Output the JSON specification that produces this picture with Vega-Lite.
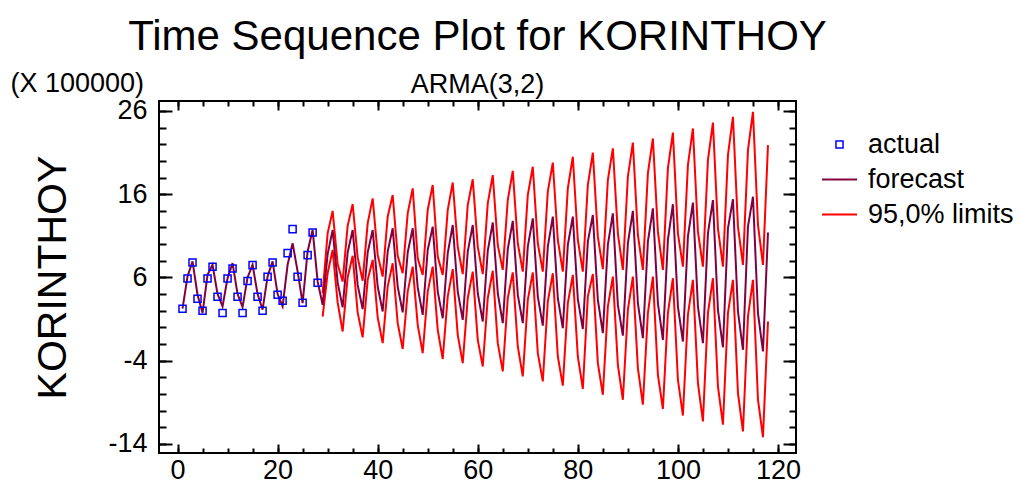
{
  "$schema": "https://vega.github.io/schema/vega-lite/v6.json",
  "width": 637,
  "height": 352,
  "autosize": {"type": "none"},
  "padding": {"left": 159, "top": 101, "right": 224, "bottom": 40},
  "background": "white",
  "config": {
    "view": {"stroke": "black", "strokeWidth": 2},
    "font": "Liberation Sans",
    "axis": {"domain": false, "grid": false, "tickColor": "black", "tickWidth": 2, "labelColor": "black", "labelFont": "Liberation Sans", "labelFontSize": 27, "titleFont": "Liberation Sans", "titleFontWeight": "normal", "titleColor": "black"},
    "legend": {"labelFont": "Liberation Sans", "labelFontSize": 27, "labelColor": "black", "labelLimit": 400}
  },
  "title": {
    "text": "Time Sequence Plot for KORINTHOY",
    "subtitle": "ARMA(3,2)",
    "font": "Liberation Sans",
    "subtitleFont": "Liberation Sans",
    "fontSize": 42,
    "subtitleFontSize": 27,
    "fontWeight": "normal",
    "color": "black",
    "subtitleColor": "black",
    "anchor": "middle",
    "offset": -30,
    "subtitlePadding": 13
  },
  "datasets": {
    "actual": [
      {"t":1,"v":2.24,"s":"actual"},{"t":2,"v":5.88,"s":"actual"},{"t":3,"v":7.8,"s":"actual"},{"t":4,"v":3.44,"s":"actual"},
      {"t":5,"v":2.0,"s":"actual"},{"t":6,"v":5.88,"s":"actual"},{"t":7,"v":7.28,"s":"actual"},{"t":8,"v":3.68,"s":"actual"},
      {"t":9,"v":1.72,"s":"actual"},{"t":10,"v":5.88,"s":"actual"},{"t":11,"v":7.08,"s":"actual"},{"t":12,"v":3.68,"s":"actual"},
      {"t":13,"v":1.72,"s":"actual"},{"t":14,"v":5.56,"s":"actual"},{"t":15,"v":7.48,"s":"actual"},{"t":16,"v":3.68,"s":"actual"},
      {"t":17,"v":2.0,"s":"actual"},{"t":18,"v":6.08,"s":"actual"},{"t":19,"v":7.8,"s":"actual"},{"t":20,"v":3.92,"s":"actual"},
      {"t":21,"v":3.2,"s":"actual"},{"t":22,"v":8.92,"s":"actual"},{"t":23,"v":11.8,"s":"actual"},{"t":24,"v":6.08,"s":"actual"},
      {"t":25,"v":2.96,"s":"actual"},{"t":26,"v":8.68,"s":"actual"},{"t":27,"v":11.4,"s":"actual"},{"t":28,"v":5.36,"s":"actual"}
    ],
    "forecast": [
      {"t":1,"v":2.24,"s":"forecast"},{"t":2,"v":6.12,"s":"forecast"},{"t":3,"v":7.92,"s":"forecast"},{"t":4,"v":3.92,"s":"forecast"},
      {"t":5,"v":1.72,"s":"forecast"},{"t":6,"v":6.32,"s":"forecast"},{"t":7,"v":7.52,"s":"forecast"},{"t":8,"v":4.0,"s":"forecast"},
      {"t":9,"v":2.52,"s":"forecast"},{"t":10,"v":5.92,"s":"forecast"},{"t":11,"v":7.72,"s":"forecast"},{"t":12,"v":4.0,"s":"forecast"},
      {"t":13,"v":2.44,"s":"forecast"},{"t":14,"v":6.0,"s":"forecast"},{"t":15,"v":7.52,"s":"forecast"},{"t":16,"v":4.0,"s":"forecast"},
      {"t":17,"v":2.12,"s":"forecast"},{"t":18,"v":6.12,"s":"forecast"},{"t":19,"v":7.92,"s":"forecast"},{"t":20,"v":4.0,"s":"forecast"},
      {"t":21,"v":2.52,"s":"forecast"},{"t":22,"v":7.52,"s":"forecast"},{"t":23,"v":10.12,"s":"forecast"},{"t":24,"v":6.72,"s":"forecast"},
      {"t":25,"v":2.92,"s":"forecast"},{"t":26,"v":9.12,"s":"forecast"},{"t":27,"v":11.72,"s":"forecast"},{"t":28,"v":5.52,"s":"forecast"},
      {"t":29,"v":2.7,"s":"forecast"},{"t":30,"v":8.8,"s":"forecast"},{"t":31,"v":11.7,"s":"forecast"},{"t":32,"v":5.4,"s":"forecast"},
      {"t":33,"v":2.4,"s":"forecast"},{"t":34,"v":9.0,"s":"forecast"},{"t":35,"v":11.7,"s":"forecast"},{"t":36,"v":5.1,"s":"forecast"},
      {"t":37,"v":2.2,"s":"forecast"},{"t":38,"v":9.0,"s":"forecast"},{"t":39,"v":11.7,"s":"forecast"},{"t":40,"v":4.9,"s":"forecast"},
      {"t":41,"v":1.9,"s":"forecast"},{"t":42,"v":9.1,"s":"forecast"},{"t":43,"v":11.9,"s":"forecast"},{"t":44,"v":4.9,"s":"forecast"},
      {"t":45,"v":1.8,"s":"forecast"},{"t":46,"v":9.0,"s":"forecast"},{"t":47,"v":11.9,"s":"forecast"},{"t":48,"v":4.8,"s":"forecast"},
      {"t":49,"v":1.5,"s":"forecast"},{"t":50,"v":9.3,"s":"forecast"},{"t":51,"v":12.1,"s":"forecast"},{"t":52,"v":4.3,"s":"forecast"},
      {"t":53,"v":1.1,"s":"forecast"},{"t":54,"v":8.9,"s":"forecast"},{"t":55,"v":12.3,"s":"forecast"},{"t":56,"v":4.3,"s":"forecast"},
      {"t":57,"v":0.9,"s":"forecast"},{"t":58,"v":9.1,"s":"forecast"},{"t":59,"v":12.3,"s":"forecast"},{"t":60,"v":4.1,"s":"forecast"},
      {"t":61,"v":0.7,"s":"forecast"},{"t":62,"v":9.2,"s":"forecast"},{"t":63,"v":12.6,"s":"forecast"},{"t":64,"v":4.1,"s":"forecast"},
      {"t":65,"v":0.5,"s":"forecast"},{"t":66,"v":9.4,"s":"forecast"},{"t":67,"v":12.8,"s":"forecast"},{"t":68,"v":3.9,"s":"forecast"},
      {"t":69,"v":0.5,"s":"forecast"},{"t":70,"v":9.7,"s":"forecast"},{"t":71,"v":13.1,"s":"forecast"},{"t":72,"v":3.7,"s":"forecast"},
      {"t":73,"v":0.2,"s":"forecast"},{"t":74,"v":9.7,"s":"forecast"},{"t":75,"v":13.3,"s":"forecast"},{"t":76,"v":3.5,"s":"forecast"},
      {"t":77,"v":-0.1,"s":"forecast"},{"t":78,"v":9.9,"s":"forecast"},{"t":79,"v":13.3,"s":"forecast"},{"t":80,"v":3.4,"s":"forecast"},
      {"t":81,"v":-0.2,"s":"forecast"},{"t":82,"v":10.3,"s":"forecast"},{"t":83,"v":13.5,"s":"forecast"},{"t":84,"v":3.3,"s":"forecast"},
      {"t":85,"v":-0.7,"s":"forecast"},{"t":86,"v":9.9,"s":"forecast"},{"t":87,"v":13.7,"s":"forecast"},{"t":88,"v":2.7,"s":"forecast"},
      {"t":89,"v":-1.0,"s":"forecast"},{"t":90,"v":10.1,"s":"forecast"},{"t":91,"v":14.0,"s":"forecast"},{"t":92,"v":2.9,"s":"forecast"},
      {"t":93,"v":-1.3,"s":"forecast"},{"t":94,"v":10.3,"s":"forecast"},{"t":95,"v":14.3,"s":"forecast"},{"t":96,"v":2.9,"s":"forecast"},
      {"t":97,"v":-1.5,"s":"forecast"},{"t":98,"v":10.5,"s":"forecast"},{"t":99,"v":14.8,"s":"forecast"},{"t":100,"v":2.5,"s":"forecast"},
      {"t":101,"v":-1.7,"s":"forecast"},{"t":102,"v":10.9,"s":"forecast"},{"t":103,"v":15.0,"s":"forecast"},{"t":104,"v":2.5,"s":"forecast"},
      {"t":105,"v":-1.9,"s":"forecast"},{"t":106,"v":11.3,"s":"forecast"},{"t":107,"v":15.3,"s":"forecast"},{"t":108,"v":2.1,"s":"forecast"},
      {"t":109,"v":-2.4,"s":"forecast"},{"t":110,"v":11.9,"s":"forecast"},{"t":111,"v":15.4,"s":"forecast"},{"t":112,"v":1.9,"s":"forecast"},
      {"t":113,"v":-2.7,"s":"forecast"},{"t":114,"v":12.1,"s":"forecast"},{"t":115,"v":15.7,"s":"forecast"},{"t":116,"v":1.7,"s":"forecast"},
      {"t":117,"v":-2.9,"s":"forecast"},{"t":118,"v":11.4,"s":"forecast"}
    ],
    "limits": [
      {"t":29,"u":4.1,"l":1.3,"s":"95,0% limits"},{"t":30,"u":11.3,"l":6.5,"s":"95,0% limits"},{"t":31,"u":14.0,"l":9.3,"s":"95,0% limits"},{"t":32,"u":7.6,"l":3.0,"s":"95,0% limits"},
      {"t":33,"u":5.5,"l":-0.5,"s":"95,0% limits"},{"t":34,"u":12.2,"l":6.0,"s":"95,0% limits"},{"t":35,"u":14.8,"l":8.6,"s":"95,0% limits"},{"t":36,"u":8.4,"l":1.8,"s":"95,0% limits"},
      {"t":37,"u":5.6,"l":-1.2,"s":"95,0% limits"},{"t":38,"u":12.5,"l":5.7,"s":"95,0% limits"},{"t":39,"u":15.5,"l":8.1,"s":"95,0% limits"},{"t":40,"u":8.7,"l":1.2,"s":"95,0% limits"},
      {"t":41,"u":6.1,"l":-1.9,"s":"95,0% limits"},{"t":42,"u":13.3,"l":4.9,"s":"95,0% limits"},{"t":43,"u":15.9,"l":7.7,"s":"95,0% limits"},{"t":44,"u":8.6,"l":0.5,"s":"95,0% limits"},
      {"t":45,"u":6.5,"l":-2.6,"s":"95,0% limits"},{"t":46,"u":13.7,"l":4.3,"s":"95,0% limits"},{"t":47,"u":16.7,"l":7.3,"s":"95,0% limits"},{"t":48,"u":8.3,"l":0.3,"s":"95,0% limits"},
      {"t":49,"u":6.3,"l":-3.1,"s":"95,0% limits"},{"t":50,"u":14.1,"l":4.3,"s":"95,0% limits"},{"t":51,"u":17.1,"l":7.3,"s":"95,0% limits"},{"t":52,"u":8.5,"l":-0.3,"s":"95,0% limits"},
      {"t":53,"u":6.3,"l":-3.8,"s":"95,0% limits"},{"t":54,"u":14.1,"l":3.7,"s":"95,0% limits"},{"t":55,"u":17.4,"l":7.0,"s":"95,0% limits"},{"t":56,"u":9.7,"l":-0.9,"s":"95,0% limits"},
      {"t":57,"u":6.4,"l":-4.3,"s":"95,0% limits"},{"t":58,"u":14.7,"l":3.5,"s":"95,0% limits"},{"t":59,"u":17.8,"l":6.7,"s":"95,0% limits"},{"t":60,"u":9.7,"l":-1.5,"s":"95,0% limits"},
      {"t":61,"u":6.4,"l":-4.7,"s":"95,0% limits"},{"t":62,"u":14.9,"l":3.5,"s":"95,0% limits"},{"t":63,"u":18.3,"l":6.8,"s":"95,0% limits"},{"t":64,"u":9.9,"l":-1.9,"s":"95,0% limits"},
      {"t":65,"u":6.9,"l":-5.3,"s":"95,0% limits"},{"t":66,"u":15.3,"l":3.5,"s":"95,0% limits"},{"t":67,"u":18.8,"l":6.6,"s":"95,0% limits"},{"t":68,"u":10.1,"l":-2.3,"s":"95,0% limits"},
      {"t":69,"u":6.7,"l":-5.9,"s":"95,0% limits"},{"t":70,"u":15.9,"l":3.3,"s":"95,0% limits"},{"t":71,"u":19.3,"l":6.6,"s":"95,0% limits"},{"t":72,"u":10.1,"l":-3.1,"s":"95,0% limits"},
      {"t":73,"u":6.7,"l":-6.5,"s":"95,0% limits"},{"t":74,"u":16.3,"l":3.1,"s":"95,0% limits"},{"t":75,"u":19.8,"l":6.5,"s":"95,0% limits"},{"t":76,"u":10.5,"l":-3.5,"s":"95,0% limits"},
      {"t":77,"u":6.7,"l":-7.0,"s":"95,0% limits"},{"t":78,"u":16.7,"l":2.9,"s":"95,0% limits"},{"t":79,"u":20.5,"l":6.3,"s":"95,0% limits"},{"t":80,"u":10.5,"l":-3.5,"s":"95,0% limits"},
      {"t":81,"u":6.7,"l":-7.4,"s":"95,0% limits"},{"t":82,"u":17.1,"l":3.7,"s":"95,0% limits"},{"t":83,"u":21.0,"l":6.4,"s":"95,0% limits"},{"t":84,"u":10.9,"l":-4.3,"s":"95,0% limits"},
      {"t":85,"u":7.0,"l":-8.1,"s":"95,0% limits"},{"t":86,"u":17.7,"l":2.5,"s":"95,0% limits"},{"t":87,"u":21.5,"l":6.1,"s":"95,0% limits"},{"t":88,"u":11.3,"l":-4.5,"s":"95,0% limits"},
      {"t":89,"u":6.9,"l":-8.7,"s":"95,0% limits"},{"t":90,"u":18.1,"l":2.1,"s":"95,0% limits"},{"t":91,"u":22.2,"l":6.1,"s":"95,0% limits"},{"t":92,"u":11.1,"l":-4.9,"s":"95,0% limits"},
      {"t":93,"u":6.9,"l":-9.3,"s":"95,0% limits"},{"t":94,"u":18.5,"l":1.7,"s":"95,0% limits"},{"t":95,"u":22.7,"l":6.1,"s":"95,0% limits"},{"t":96,"u":11.5,"l":-5.7,"s":"95,0% limits"},
      {"t":97,"u":6.9,"l":-9.8,"s":"95,0% limits"},{"t":98,"u":19.1,"l":1.7,"s":"95,0% limits"},{"t":99,"u":23.4,"l":5.9,"s":"95,0% limits"},{"t":100,"u":11.3,"l":-6.3,"s":"95,0% limits"},
      {"t":101,"u":7.3,"l":-10.6,"s":"95,0% limits"},{"t":102,"u":19.5,"l":1.5,"s":"95,0% limits"},{"t":103,"u":23.9,"l":5.7,"s":"95,0% limits"},{"t":104,"u":11.5,"l":-6.7,"s":"95,0% limits"},
      {"t":105,"u":7.3,"l":-11.3,"s":"95,0% limits"},{"t":106,"u":20.1,"l":1.7,"s":"95,0% limits"},{"t":107,"u":24.6,"l":5.9,"s":"95,0% limits"},{"t":108,"u":11.9,"l":-7.1,"s":"95,0% limits"},
      {"t":109,"u":7.3,"l":-11.7,"s":"95,0% limits"},{"t":110,"u":20.7,"l":1.7,"s":"95,0% limits"},{"t":111,"u":25.3,"l":5.7,"s":"95,0% limits"},{"t":112,"u":12.1,"l":-7.9,"s":"95,0% limits"},
      {"t":113,"u":7.5,"l":-12.5,"s":"95,0% limits"},{"t":114,"u":21.3,"l":1.3,"s":"95,0% limits"},{"t":115,"u":25.9,"l":5.7,"s":"95,0% limits"},{"t":116,"u":12.3,"l":-8.7,"s":"95,0% limits"},
      {"t":117,"u":7.5,"l":-13.2,"s":"95,0% limits"},{"t":118,"u":21.9,"l":0.7,"s":"95,0% limits"}
    ]
  },
  "layer": [
    {
      "data": {"name": "limits"},
      "mark": {"type": "line", "strokeWidth": 2},
      "encoding": {
        "x": {"field": "t", "type": "quantitative", "scale": {"domain": [-3.7, 123.6], "nice": false, "zero": false},
              "axis": {"orient": "top", "title": null, "labels": false, "values": [0,20,40,60,80,100,120], "tickSize": -9}},
        "y": {"field": "u", "type": "quantitative", "scale": {"domain": [-15.1, 27.2], "nice": false, "zero": false},
              "axis": {"orient": "right", "title": null, "labels": false, "values": [-14,-4,6,16,26], "tickSize": -13}},
        "color": {"field": "s", "type": "nominal",
                  "scale": {"domain": ["actual", "forecast", "95,0% limits"], "range": ["#0000FF", "#800040", "#FF0000"]},
                  "legend": {"orient": "none", "legendX": 667, "legendY": 30, "title": null, "padding": 0, "rowPadding": 7, "labelOffset": 15,
                             "labelFontSize": 27, "labelLimit": 400,
                             "encode": {"symbols": {"update": {
                               "shape": {"signal": "datum.value === 'actual' ? 'square' : 'stroke'"},
                               "size": {"signal": "datum.value === 'actual' ? 50 : 1225"},
                               "strokeWidth": {"signal": "datum.value === 'actual' ? 1.5 : 2"},
                               "fill": {"value": "transparent"},
                               "stroke": {"scale": "color", "field": "value"},
                               "opacity": {"value": 1}
                             }}}}}
      }
    },
    {
      "data": {"name": "limits"},
      "mark": {"type": "line", "strokeWidth": 2},
      "encoding": {
        "x": {"field": "t", "type": "quantitative",
              "axis": {"orient": "top", "title": null, "labels": false, "values": [0,5,10,15,20,25,30,35,40,45,50,55,60,65,70,75,80,85,90,95,100,105,110,115,120], "tickSize": -5}},
        "y": {"field": "l", "type": "quantitative",
              "axis": {"orient": "right", "title": null, "labels": false, "values": [-14,-12,-10,-8,-6,-4,-2,0,2,4,6,8,10,12,14,16,18,20,22,24,26], "tickSize": -7}},
        "color": {"field": "s", "type": "nominal"}
      }
    },
    {
      "data": {"name": "forecast"},
      "mark": {"type": "line", "strokeWidth": 2},
      "encoding": {
        "x": {"field": "t", "type": "quantitative",
              "axis": {"orient": "bottom", "title": null, "labels": false, "values": [0,5,10,15,20,25,30,35,40,45,50,55,60,65,70,75,80,85,90,95,100,105,110,115,120], "tickSize": -5}},
        "y": {"field": "v", "type": "quantitative",
              "axis": {"orient": "left", "labels": false, "values": [-14,-12,-10,-8,-6,-4,-2,0,2,4,6,8,10,12,14,16,18,20,22,24,26], "tickSize": -7,
                       "title": "(X 100000)", "titleAngle": 0, "titleAlign": "left", "titleBaseline": "alphabetic", "titleX": -149, "titleY": -10, "titleFontSize": 27}},
        "color": {"field": "s", "type": "nominal"}
      }
    },
    {
      "data": {"name": "actual"},
      "mark": {"type": "point", "shape": "square", "filled": false, "size": 50, "strokeWidth": 1.5, "opacity": 1},
      "encoding": {
        "x": {"field": "t", "type": "quantitative",
              "axis": {"orient": "bottom", "title": null, "values": [0,20,40,60,80,100,120], "tickSize": -9, "labelPadding": 13}},
        "y": {"field": "v", "type": "quantitative",
              "axis": {"orient": "left", "values": [-14,-4,6,16,26], "tickSize": -13, "labelPadding": 25,
                       "labelExpr": "replace(datum.label, '\u2212', '-')",
                       "title": "KORINTHOY", "titleAngle": -90, "titleAlign": "center", "titleBaseline": "alphabetic", "titleX": -94, "titleY": 176, "titleFontSize": 41}},
        "color": {"field": "s", "type": "nominal"}
      }
    }
  ],
  "resolve": {"axis": {"x": "independent", "y": "independent"}}
}
